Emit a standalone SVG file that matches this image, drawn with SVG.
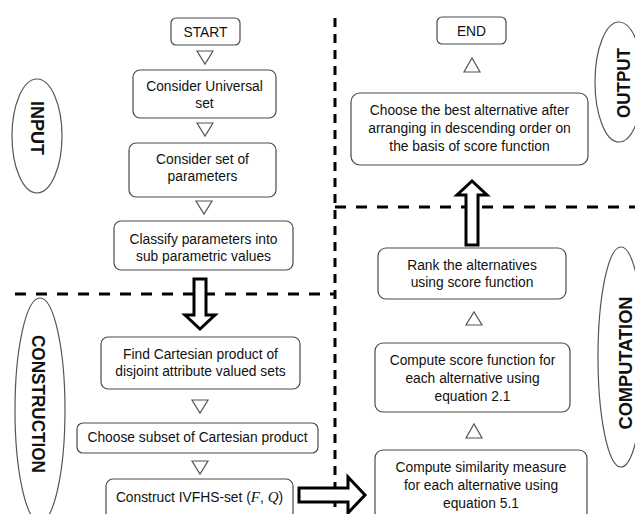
<svg xmlns="http://www.w3.org/2000/svg" width="635" height="514" viewBox="0 0 635 514">
<style>
.box{fill:#fff;stroke:#4a4a4a;stroke-width:1.2}
.t{font-family:"Liberation Sans",Arial,sans-serif;font-size:13.8px;fill:#111;text-anchor:middle}
.lab{font-family:"Liberation Sans",Arial,sans-serif;font-size:18px;font-weight:bold;fill:#111;text-anchor:middle}
.tri{fill:#fff;stroke:#555;stroke-width:1.2}
.big{fill:#fff;stroke:#000;stroke-width:3;stroke-linejoin:miter}
.dh{fill:none;stroke:#000;stroke-width:3;stroke-dasharray:11 10}
.dv{fill:none;stroke:#000;stroke-width:3;stroke-dasharray:9 7}
.ell{fill:#fff;stroke:#555;stroke-width:1.2}
.m{font-family:"Liberation Serif","Times New Roman",serif;font-style:italic;font-size:15px}
</style>
<g id="sections">
<path class="dh" d="M15 294 H335"/>
<path class="dv" d="M335 18 V514"/>
<path class="dh" d="M335 207 H635"/>
</g>
<g id="label-input"><ellipse class="ell" cx="37" cy="136" rx="25" ry="57"/><text class="lab" transform="translate(31,128) rotate(90)">INPUT</text></g>
<g id="label-construction"><ellipse class="ell" cx="40" cy="410" rx="25" ry="112"/><text class="lab" transform="translate(32,404) rotate(90)" textLength="138" lengthAdjust="spacingAndGlyphs">CONSTRUCTION</text></g>
<g id="label-output"><ellipse class="ell" cx="619" cy="82" rx="24" ry="60"/><text class="lab" transform="translate(630,83) rotate(-90)" textLength="70" lengthAdjust="spacingAndGlyphs">OUTPUT</text></g>
<g id="label-computation"><ellipse class="ell" cx="621" cy="357" rx="23" ry="110"/><text class="lab" transform="translate(632,363) rotate(-90)" textLength="133" lengthAdjust="spacingAndGlyphs">COMPUTATION</text></g>

<g id="start"><rect class="box" x="171" y="18" width="69" height="27" rx="5"/><text class="t" x="205.5" y="37">START</text></g>
<g id="universal"><rect class="box" x="133" y="70" width="143" height="48" rx="7"/><text class="t" x="204.5" y="91">Consider Universal</text><text class="t" x="204.5" y="108">set</text></g>
<g id="parameters"><rect class="box" x="129" y="143" width="147" height="54" rx="7"/><text class="t" x="202.5" y="164">Consider set of</text><text class="t" x="202.5" y="181">parameters</text></g>
<g id="classify"><rect class="box" x="114" y="221" width="179" height="49" rx="7"/><text class="t" x="203.5" y="244">Classify parameters into</text><text class="t" x="203.5" y="261">sub parametric values</text></g>
<g id="cartesian"><rect class="box" x="101" y="337" width="199" height="52" rx="7"/><text class="t" x="200.5" y="359">Find Cartesian product of</text><text class="t" x="200.5" y="376">disjoint attribute valued sets</text></g>
<g id="subset"><rect class="box" x="77" y="423" width="241" height="30" rx="6"/><text class="t" x="197.5" y="442">Choose subset of Cartesian product</text></g>
<g id="construct"><rect class="box" x="106" y="479" width="187" height="40" rx="7"/><text class="t" x="199.5" y="502">Construct IVFHS-set (<tspan class="m">F</tspan>, <tspan class="m">Q</tspan>)</text></g>
<g id="similarity"><rect class="box" x="375" y="450" width="212" height="70" rx="8"/><text class="t" x="481" y="472">Compute similarity measure</text><text class="t" x="481" y="490">for each alternative using</text><text class="t" x="481" y="508">equation 5.1</text></g>
<g id="score"><rect class="box" x="375" y="343" width="195" height="69" rx="8"/><text class="t" x="472.5" y="365">Compute score function for</text><text class="t" x="472.5" y="383">each alternative using</text><text class="t" x="472.5" y="401">equation 2.1</text></g>
<g id="rank"><rect class="box" x="378" y="248" width="188" height="51" rx="8"/><text class="t" x="472" y="270">Rank the alternatives</text><text class="t" x="472" y="287">using score function</text></g>
<g id="best"><rect class="box" x="351" y="93" width="237" height="72" rx="9"/><text class="t" x="469.5" y="115">Choose the best alternative after</text><text class="t" x="469.5" y="133">arranging in descending order on</text><text class="t" x="469.5" y="151">the basis of score function</text></g>
<g id="end"><rect class="box" x="437" y="17" width="69" height="27" rx="5"/><text class="t" x="471.5" y="36">END</text></g>

<g id="connectors">
<path class="tri" d="M197 51 H213 L205 64 Z"/>
<path class="tri" d="M197 123 H213 L205 136 Z"/>
<path class="tri" d="M196 201 H212 L204 214 Z"/>
<path class="tri" d="M192 400 H208 L200 413 Z"/>
<path class="tri" d="M192 461 H208 L200 474 Z"/>
<path class="tri" d="M464 72 H480 L472 58 Z"/>
<path class="tri" d="M466 325 H482 L474 312 Z"/>
<path class="tri" d="M466 438 H482 L474 424 Z"/>
<path class="big" d="M194 279 H206 V315 H215 L200 329 L185 315 H194 Z"/>
<path class="big" d="M466 245 V195 H457 L472 181 L487 195 H478 V245 Z"/>
<path class="big" d="M299 488 H348 V477 L365 495 L348 513 V502 H299 Z"/>
</g>
</svg>
